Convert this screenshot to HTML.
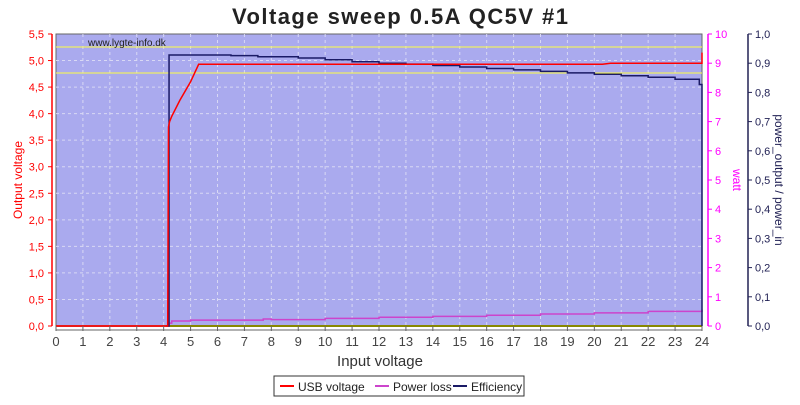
<!DOCTYPE html>
<html><head><meta charset="utf-8"><style>
body{margin:0;background:#fff;font-family:"Liberation Sans",sans-serif}
</style></head><body>
<svg id="c" width="800" height="400" xmlns="http://www.w3.org/2000/svg" font-family="Liberation Sans, sans-serif">
<text x="400" y="24" text-anchor="middle" font-size="22" font-weight="bold" fill="#222" textLength="336">Voltage sweep 0.5A QC5V #1</text>
<rect x="56" y="34" width="646" height="292" fill="#aaaaee" stroke="#666"/>
<g id="grid"></g>
<line x1="56" y1="47" x2="702" y2="47" stroke="#ffff44"/>
<line x1="56" y1="73" x2="702" y2="73" stroke="#ffff44"/>
<line x1="56" y1="326" x2="702" y2="326" stroke="#888800" stroke-width="2"/>
<text x="88" y="46" font-size="10" fill="#222">www.lygte-info.dk</text>
<g id="series"></g>
<g id="axes"></g>
<text x="380" y="366" text-anchor="middle" font-size="15" fill="#333">Input voltage</text>
<text transform="translate(22,180) rotate(-90)" text-anchor="middle" font-size="12" fill="red">Output voltage</text>
<text transform="translate(733,180) rotate(90)" text-anchor="middle" font-size="12" fill="#ff00ff">watt</text>
<text transform="translate(775,180) rotate(90)" text-anchor="middle" font-size="12" fill="#222255">power_output / power_in</text>
<g>
<rect x="274" y="376" width="250" height="20" fill="#fff" stroke="#333"/>
<line x1="280" y1="386" x2="294" y2="386" stroke="red" stroke-width="2"/>
<text x="298" y="391" font-size="12" fill="#222">USB voltage</text>
<line x1="375" y1="386" x2="389" y2="386" stroke="#cc44cc" stroke-width="2"/>
<text x="393" y="391" font-size="12" fill="#222">Power loss</text>
<line x1="453" y1="386" x2="467" y2="386" stroke="#1a1a66" stroke-width="2"/>
<text x="471" y="391" font-size="12" fill="#222">Efficiency</text>
</g>
</svg>
<script>
const xTicks=[0,1,2,3,4,5,6,7,8,9,10,11,12,13,14,15,16,17,18,19,20,21,22,23,24];
const vTicks=["0,0","0,5","1,0","1,5","2,0","2,5","3,0","3,5","4,0","4,5","5,0","5,5"];
const wTicks=["0","1","2","3","4","5","6","7","8","9","10"];
const eTicks=["0,0","0,1","0,2","0,3","0,4","0,5","0,6","0,7","0,8","0,9","1,0"];
const vinUsb=[0,3.95,4.15,4.18,4.22,4.3,4.6,5.0,5.3,8,13,16,20.3,20.6,24,24];
const usbV=[0,0,0,3.75,3.85,3.95,4.25,4.6,4.93,4.93,4.93,4.93,4.93,4.95,4.95,5.15];
const vinLoss=[0,4.1,4.2,4.3,4.9,5,7.5,7.7,8,10,12,14,16,18,20,22,24];
const lossW=[0,0,0.1,0.17,0.17,0.2,0.2,0.24,0.22,0.26,0.3,0.33,0.37,0.41,0.45,0.5,0.56];
const vinEff=[4.1,4.15,4.2,6.5,7.5,9,10,11,12,13,14,15,16,17,18,19,20,21,22,23,23.9,24];
const eff=[0,0,0.928,0.926,0.922,0.918,0.912,0.905,0.9,0.897,0.892,0.887,0.882,0.877,0.872,0.867,0.862,0.857,0.852,0.845,0.827,0];
const X0=56,X1=702,Y0=326,Y1=34;
const sx=v=>X0+v/24*(X1-X0), sv=v=>Y0-v/5.5*(Y0-Y1), sw=v=>Y0-v/10*(Y0-Y1), se=v=>Y0-v*(Y0-Y1);
const NS="http://www.w3.org/2000/svg";
function mk(t,a,p){const e=document.createElementNS(NS,t);for(const k in a)e.setAttribute(k,a[k]);p.appendChild(e);return e;}
const grid=document.getElementById('grid'),axes=document.getElementById('axes'),ser=document.getElementById('series');
xTicks.forEach(t=>{const x=sx(t);
 if(t>0&&t<24){const l=mk('line',{x1:x,y1:Y1,x2:x,y2:Y0,stroke:'#d8d8f4',"stroke-dasharray":'3,3'},grid);}
 mk('line',{x1:x,y1:Y0,x2:x,y2:Y0+5,stroke:'#666'},axes);
 const tx=mk('text',{x:x,y:346,"text-anchor":'middle',"font-size":13,fill:'#444'},axes);tx.textContent=t;
 });
mk('line',{x1:X0,y1:Y0+4,x2:X1,y2:Y0+4,stroke:'#666'},axes);
vTicks.forEach((t,i)=>{const y=sv(i*0.5);
 if(i>0&&i<11){const l=mk('line',{x1:X0,y1:y,x2:X1,y2:y,stroke:'#d8d8f4',"stroke-dasharray":'3,3'},grid);}
 mk('line',{x1:48,y1:y,x2:52,y2:y,stroke:'red'},axes);
 const tx=mk('text',{x:44,y:y+4,"text-anchor":'end',"font-size":11,fill:'red'},axes);tx.textContent=t;
 });
mk('line',{x1:52,y1:Y1,x2:52,y2:Y0,stroke:'red',"stroke-width":1.5},axes);
wTicks.forEach((t,i)=>{const y=sw(i);
 mk('line',{x1:708,y1:y,x2:712,y2:y,stroke:'#ff00ff'},axes);
 const tx=mk('text',{x:715,y:y+4,"font-size":11,fill:'#ff00ff'},axes);tx.textContent=t;
 });
mk('line',{x1:708,y1:Y1,x2:708,y2:Y0,stroke:'#ff00ff',"stroke-width":1.5},axes);
eTicks.forEach((t,i)=>{const y=se(i/10);
 mk('line',{x1:748,y1:y,x2:752,y2:y,stroke:'#222255'},axes);
 const tx=mk('text',{x:755,y:y+4,"font-size":11,fill:'#222255'},axes);tx.textContent=t;
 });
mk('line',{x1:748,y1:Y1,x2:748,y2:Y0,stroke:'#222255',"stroke-width":1.5},axes);
function line(xs,ys,fy,col,name,step){let d='';xs.forEach((v,i)=>{const x=sx(v),y=fy(ys[i]);
 if(i===0)d+='M'+x+','+y;else{if(step)d+='H'+x;d+='L'+x+','+y;}});
 const p=mk('path',{d:d,fill:'none',stroke:col,"stroke-width":1.5},ser);
 }
line(vinLoss,lossW,sw,'#cc44cc','power-loss-line',true);
line(vinEff,eff,se,'#1a1a66','efficiency-line',true);
line(vinUsb,usbV,sv,'red','usb-voltage-line',false);
</script>
</body></html>
